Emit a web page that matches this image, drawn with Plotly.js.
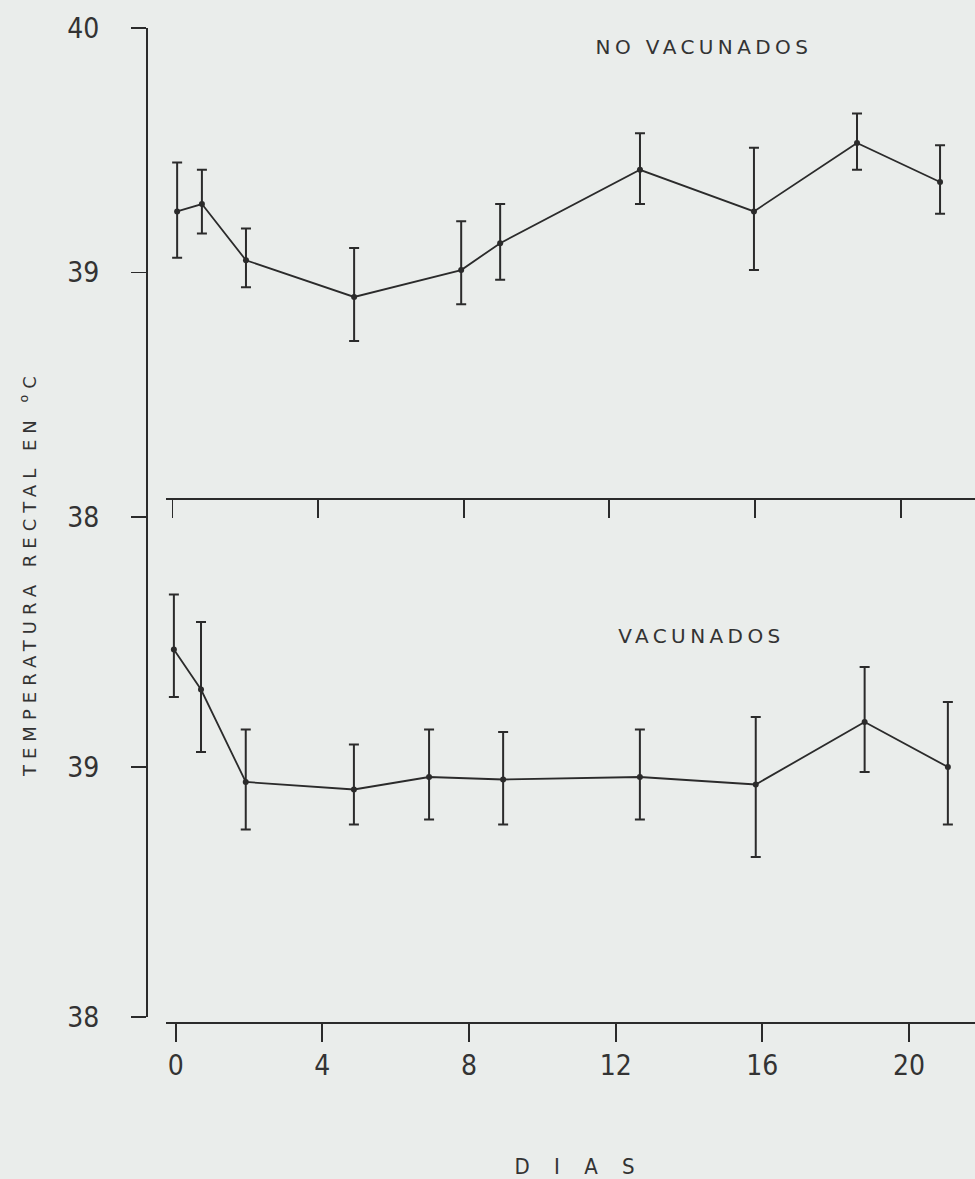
<!DOCTYPE html>
<html>
<head>
<meta charset="utf-8">
<script src="https://cdn.plot.ly/plotly-3.0.1.min.js"></script>
<style>
  html, body { margin: 0; padding: 0; background: #eaedeb; }
  #chart { width: 975px; height: 1179px; }
</style>
</head>
<body>
<div id="chart"></div>
<script>
// ---- Data ----
const daysNoVac   = [0.13, 0.81, 2.02, 4.99, 7.93, 9.0, 12.84, 15.97, 18.8, 21.08];
const meanNoVac   = [39.25, 39.28, 39.05, 38.90, 39.01, 39.12, 39.42, 39.25, 39.53, 39.37];
const upperNoVac  = [39.45, 39.42, 39.18, 39.10, 39.21, 39.28, 39.57, 39.51, 39.65, 39.52];
const lowerNoVac  = [39.06, 39.16, 38.94, 38.72, 38.87, 38.97, 39.28, 39.01, 39.42, 39.24];

const daysVac     = [-0.05, 0.69, 1.91, 4.86, 6.91, 8.93, 12.66, 15.82, 18.79, 21.06];
const meanVac     = [39.47, 39.31, 38.94, 38.91, 38.96, 38.95, 38.96, 38.93, 39.18, 39.00];
const upperVac    = [39.69, 39.58, 39.15, 39.09, 39.15, 39.14, 39.15, 39.20, 39.40, 39.26];
const lowerVac    = [39.28, 39.06, 38.75, 38.77, 38.79, 38.77, 38.79, 38.64, 38.98, 38.77];

const xTickVals   = [0, 4, 8, 12, 16, 20];
const xTickText   = ['0', '4', '8', '12', '16', '20'];
const yTopTicks   = [38, 39, 40];
const yBotTicks   = [38, 39];

// ---- Styling / layout helpers ----
const ink = '#2b2b2b';
const bg = '#eaedeb';
const W = 975, H = 1179;
const mL = 146, mT = 28, mB = 157, mR = 0;
const plotW = W - mL - mR, plotH = H - mT - mB;
const px = x => (x - mL) / plotW;
const py = y => (H - mB - y) / plotH;

const splitY = py(517);
const numFont = { family: 'DejaVu Sans Condensed, Liberation Sans Narrow, sans-serif', size: 28, color: '#333' };
const lblFont = { family: 'DejaVu Sans, sans-serif', size: 20, color: '#333' };

function diff(a, b) { return a.map((v, i) => +(v - b[i]).toFixed(3)); }

const traceStyle = {
  type: 'scatter', mode: 'lines+markers',
  line: { color: ink, width: 1.8 },
  marker: { color: ink, size: 6 },
  cliponaxis: false, showlegend: false, hoverinfo: 'x+y'
};

const traces = [
  Object.assign({}, traceStyle, {
    name: 'NO VACUNADOS', x: daysNoVac, y: meanNoVac, xaxis: 'x2', yaxis: 'y2',
    error_y: { type: 'data', symmetric: false, array: diff(upperNoVac, meanNoVac),
               arrayminus: diff(meanNoVac, lowerNoVac), color: ink, thickness: 2, width: 5 }
  }),
  Object.assign({}, traceStyle, {
    name: 'VACUNADOS', x: daysVac, y: meanVac, xaxis: 'x', yaxis: 'y',
    error_y: { type: 'data', symmetric: false, array: diff(upperVac, meanVac),
               arrayminus: diff(meanVac, lowerVac), color: ink, thickness: 2, width: 5 }
  })
];

const xCommon = {
  domain: [px(166), 1], showgrid: false, zeroline: false, showline: true,
  linecolor: ink, linewidth: 1.6, ticks: 'outside', ticklen: 18, tickwidth: 1.8,
  tickcolor: ink, tickvals: xTickVals, ticktext: xTickText, anchor: 'free', fixedrange: true
};
const yCommon = {
  showgrid: false, zeroline: false, showline: true, linecolor: ink, linewidth: 1.8,
  ticks: 'outside', ticklen: 15, tickwidth: 1.6, tickcolor: ink, anchor: 'free',
  position: 0, range: [38, 40], tickfont: numFont, ticklabelstandoff: 26, fixedrange: true
};

const layout = {
  width: W, height: H,
  margin: { l: mL, r: mR, t: mT, b: mB, autoexpand: false },
  paper_bgcolor: bg, plot_bgcolor: bg,
  xaxis: Object.assign({}, xCommon, { range: [-0.265, 21.80], position: 0,
    tickfont: numFont, ticklabelstandoff: 0 }),
  xaxis2: Object.assign({}, xCommon, { range: [-0.176, 22.04], position: py(498),
    showticklabels: false }),
  yaxis: Object.assign({}, yCommon, { domain: [py(1017), splitY], tickvals: yBotTicks,
    ticktext: yBotTicks.map(String) }),
  yaxis2: Object.assign({}, yCommon, { domain: [splitY, 1], tickvals: yTopTicks,
    ticktext: yTopTicks.map(String) }),
  annotations: [
    { text: 'NO VACUNADOS', xref: 'paper', yref: 'paper', x: px(704), y: py(47),
      showarrow: false, font: lblFont, xanchor: 'center', yanchor: 'middle' },
    { text: 'VACUNADOS', xref: 'paper', yref: 'paper', x: px(701), y: py(636),
      showarrow: false, font: lblFont, xanchor: 'center', yanchor: 'middle' },
    { text: 'TEMPERATURA RECTAL EN <sup>o</sup>C', xref: 'paper', yref: 'paper',
      x: px(28), y: py(574), textangle: -90, showarrow: false,
      font: { family: 'DejaVu Sans, sans-serif', size: 18, color: '#333' },
      xanchor: 'center', yanchor: 'middle' },
    { text: 'D I A S', xref: 'paper', yref: 'paper', x: px(579), y: py(1166),
      showarrow: false, font: { family: 'DejaVu Sans Condensed, sans-serif', size: 22, color: '#333' },
      xanchor: 'center', yanchor: 'middle' }
  ]
};

const spacing = ['4.4px', '4.4px', '6px', '9px'];
Plotly.newPlot('chart', traces, layout, { displayModeBar: false, staticPlot: true }).then(gd => {
  gd.querySelectorAll('g.annotation text.annotation-text').forEach((el, i) => {
    if (spacing[i]) el.style.letterSpacing = spacing[i];
  });
});
</script>
</body>
</html>
